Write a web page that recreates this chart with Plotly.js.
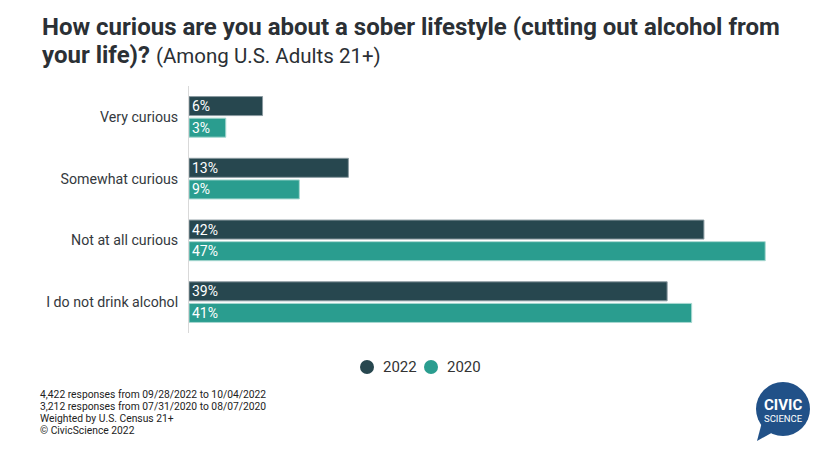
<!DOCTYPE html>
<html>
<head>
<meta charset="utf-8">
<script src="https://cdn.plot.ly/plotly-3.0.1.min.js"></script>
<style>html,body{margin:0;padding:0;background:#fff;}#chart{width:820px;height:455px;}</style>
</head>
<body>
<div id="chart"></div>
<script>
const categories = ["Very curious", "Somewhat curious", "Not at all curious", "I do not drink alcohol"];
const values2022 = [6, 13, 42, 39];
const values2020 = [3, 9, 47, 41];
const seriesNames = ["2022", "2020"];
const colors = ["#27474f", "#2a9d8f"];
const titleLine1 = "How curious are you about a sober lifestyle (cutting out alcohol from";
const titleLine2Bold = "your life)?";
const titleLine2Rest = "(Among U.S. Adults 21+)";
const footnotes = [
  "4,422 responses from 09/28/2022 to 10/04/2022",
  "3,212 responses from 07/31/2020 to 08/07/2020",
  "Weighted by U.S. Census 21+",
  "\u00A9 CivicScience 2022"
];

const W = 820, H = 455;
const L = 189, R = 18, T = 86, B = 122;
const pw = W - L - R, ph = H - T - B;
const px = x => (x - L) / pw;
const py = y => (H - B - y) / ph;

function barTrace(vals, name, color, lineColor) {
  return {
    type: "bar", orientation: "h", y: categories, x: vals, name: name,
    marker: {color: color, line: {color: lineColor, width: 1}},
    text: vals.map(v => v + "%"), textposition: "inside", insidetextanchor: "start",
    constraintext: "none",
    textfont: {family: "Roboto", size: 14, color: "#ffffff"},
    hoverinfo: "skip", showlegend: false, cliponaxis: false
  };
}

const data = [
  barTrace(values2022, seriesNames[0], colors[0], "#8a9aa0"),
  barTrace(values2020, seriesNames[1], colors[1], "#a8d8d1")
];

const annotations = [
  {xref: "paper", yref: "paper", x: px(40), y: py(27), xanchor: "left", yanchor: "middle", align: "left",
   showarrow: false, text: "<b>" + titleLine1 + "</b>", font: {family: "Roboto", size: 24, color: "#2b3035"}},
  {xref: "paper", yref: "paper", x: px(40), y: py(55), xanchor: "left", yanchor: "middle", align: "left",
   showarrow: false, text: "<b>" + titleLine2Bold + "</b> <span style='font-size:20.5px'>" + titleLine2Rest + "</span>",
   font: {family: "Roboto", size: 24, color: "#2b3035"}},
  {xref: "paper", yref: "paper", x: px(381), y: py(367), xanchor: "left", yanchor: "middle",
   showarrow: false, text: seriesNames[0], font: {family: "Roboto", size: 15, color: "#333333"}},
  {xref: "paper", yref: "paper", x: px(445), y: py(367), xanchor: "left", yanchor: "middle",
   showarrow: false, text: seriesNames[1], font: {family: "Roboto", size: 15, color: "#333333"}},
  {xref: "paper", yref: "paper", x: px(783), y: py(405), xanchor: "center", yanchor: "middle",
   showarrow: false, text: "<b>CIVIC</b>", font: {family: "Roboto", size: 15, color: "#ffffff"}},
  {xref: "paper", yref: "paper", x: px(783), y: py(418), xanchor: "center", yanchor: "middle",
   showarrow: false, text: "SCIENCE", font: {family: "Roboto", size: 9.5, color: "#ffffff"}}
];
footnotes.forEach((t, i) => annotations.push({
  xref: "paper", yref: "paper", x: px(38), y: py(394 + 12 * i), xanchor: "left", yanchor: "middle", align: "left",
  showarrow: false, text: t, font: {family: "Roboto", size: 10.3, color: "#222222"}
}));

const layout = {
  width: W, height: H,
  margin: {l: L, r: R, t: T, b: B, pad: 0},
  paper_bgcolor: "#ffffff", plot_bgcolor: "#ffffff",
  font: {family: "Roboto", color: "#333333"},
  barmode: "group", bargap: 0.30, bargroupgap: 0.12,
  xaxis: {range: [0, 50], showgrid: false, zeroline: false, showticklabels: false, ticks: "", showline: false, fixedrange: true},
  yaxis: {autorange: "reversed", showgrid: false, zeroline: false, showline: true, linecolor: "#d9d9d9", linewidth: 1,
          ticks: "", ticklabelstandoff: 7, tickfont: {family: "Roboto", size: 14.2, color: "#34393e"}, fixedrange: true},
  showlegend: false,
  annotations: annotations,
  shapes: [
    {type: "circle", xref: "paper", yref: "paper", x0: px(360), x1: px(374), y0: py(360), y1: py(374),
     fillcolor: colors[0], line: {width: 0}},
    {type: "circle", xref: "paper", yref: "paper", x0: px(424), x1: px(438), y0: py(360), y1: py(374),
     fillcolor: colors[1], line: {width: 0}},
    {type: "circle", xref: "paper", yref: "paper", x0: px(756), x1: px(810), y0: py(382), y1: py(436),
     fillcolor: "#215188", line: {width: 0}, layer: "below"},
    {type: "path", xref: "paper", yref: "paper",
     path: "M " + px(762) + "," + py(422) + " L " + px(757) + "," + py(441) + " L " + px(775) + "," + py(431) + " Z",
     fillcolor: "#215188", line: {width: 0}, layer: "below"}
  ]
};

Plotly.newPlot("chart", data, layout, {displayModeBar: false, staticPlot: true});
</script>
</body>
</html>
